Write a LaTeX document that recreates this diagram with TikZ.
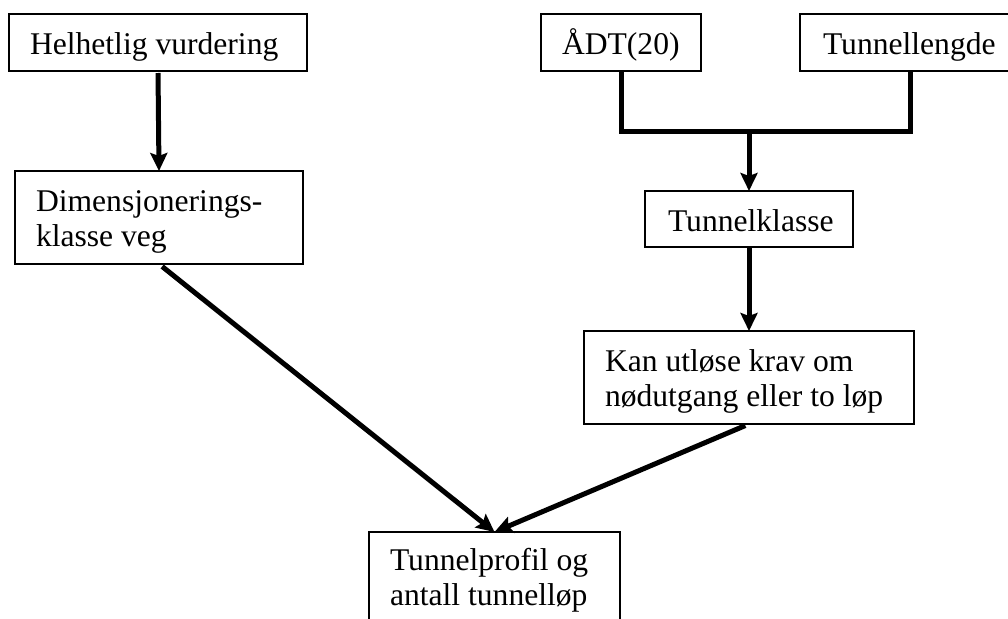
\documentclass[tikz,border=0pt]{standalone}
\usepackage{fontspec}
\setmainfont{Liberation Serif}
\usetikzlibrary{arrows.meta}
\begin{document}
\begin{tikzpicture}[x=1pt, y=-1pt,
  box/.style={draw, line width=1.5pt, inner sep=0pt, outer sep=0pt},
  lbl/.style={inner sep=0pt, outer sep=0pt, anchor=base west, align=left,
              font=\fontsize{31.6pt}{35pt}\selectfont},
  link/.style={line width=5pt},
  flow/.style={link, -{Stealth[length=18pt, width=17pt, inset=3pt]}},
]
\useasboundingbox (0,0) rectangle (1008,618);
\clip (0,0) rectangle (1008,618);

% top row
\node[box, minimum width=298pt, minimum height=57pt] (helh) at (158,42.5) {};
\node[lbl] (helhT) at (30,55) {Helhetlig vurdering};

\node[box, minimum width=160pt, minimum height=57pt] (adt) at (621,42.5) {};
\node[lbl] (adtT) at (562,55) {ÅDT(20)};

\node[box, minimum width=220pt, minimum height=57pt] (tlen) at (910,42.5) {};
\node[lbl] (tlenT) at (823,55) {Tunnellengde};

% middle row (multi-line labels are placed by the baseline of their last line)
\node[box, minimum width=288pt, minimum height=93pt] (dim) at (159,217.5) {};
\node[lbl] (dimT) at (36,246) {Dimensjonerings-\\klasse veg};

\node[box, minimum width=208pt, minimum height=56pt] (tkl) at (749,219) {};
\node[lbl] (tklT) at (668,231) {Tunnelklasse};

\node[box, minimum width=330pt, minimum height=93pt] (kan) at (749,377.5) {};
\node[lbl] (kanT) at (605,406) {Kan utløse krav om\\nødutgang eller to løp};

% result
\node[box, minimum width=251pt, minimum height=93pt] (prof) at (494.5,578.5) {};
\node[lbl] (profT) at (390,605) {Tunnelprofil og\\antall tunnelløp};

% connectors
\coordinate (join) at (749,131);
\draw[link] (adt.south) -- (adt.south |- join) -- (tlen.south |- join) -- (tlen.south);
\draw[flow] (join) -- (tkl.north);
\draw[flow, shorten <=2pt] (helh.south) -- (dim.north);
\draw[flow] (tkl.south) -- (kan.north);
\draw[flow, shorten <=4pt] (dim.south) -- (prof.north);
\draw[flow, shorten <=4pt] (kan.south) -- (prof.north);
\end{tikzpicture}
\end{document}
